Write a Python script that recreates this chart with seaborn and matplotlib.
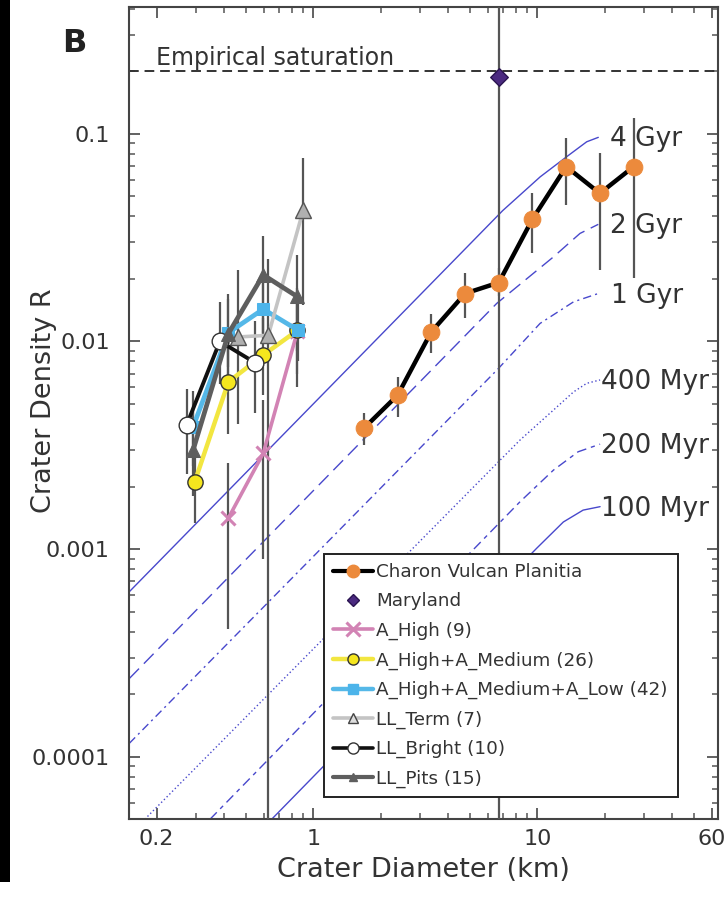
import numpy as np
import pandas as pd
import matplotlib
matplotlib.use("Agg")
import matplotlib.pyplot as plt
from matplotlib.lines import Line2D
from matplotlib.patches import Rectangle
from matplotlib.ticker import FixedLocator, FixedFormatter, LogLocator, NullFormatter
import seaborn as sns

# ---------------- data ----------------
# Charon Vulcan Planitia
charon_d = [1.68, 2.38, 3.36, 4.76, 6.73, 9.51, 13.45, 19.0, 26.9]
charon_r = [0.00381, 0.00551, 0.0111, 0.0170, 0.0192, 0.0388, 0.0694, 0.0516, 0.0694]
charon_lo = [0.00317, 0.00433, 0.00875, 0.0129, 0.0165, 0.0265, 0.0453, 0.0220, 0.0201]
charon_hi = [0.00450, 0.00675, 0.0136, 0.0213, 0.0225, 0.0516, 0.0949, 0.0804, 0.1185]

# Maryland
maryland_d = [6.77]
maryland_r = [0.188]
maryland_lo = [1e-6]
maryland_hi = [10.0]

# A_High (9)
ahigh_d = [0.418, 0.598, 0.85]
ahigh_r = [0.00141, 0.00289, 0.0112]
ahigh_lo = [0.00041, 0.0009, 0.006]
ahigh_hi = [0.0026, 0.0052, 0.018]

# A_High+A_Medium (26)
ahm_d = [0.296, 0.418, 0.598, 0.85]
ahm_r = [0.00211, 0.00638, 0.00859, 0.0113]
ahm_lo = [0.00133, 0.0036, 0.0055, 0.007]
ahm_hi = [0.0034, 0.0105, 0.013, 0.017]

# A_High+A_Medium+A_Low (42)
ahml_d = [0.291, 0.418, 0.598, 0.857]
ahml_r = [0.00388, 0.0110, 0.0143, 0.0113]
ahml_lo = [0.0025, 0.0075, 0.0105, 0.008]
ahml_hi = [0.0058, 0.016, 0.019, 0.016]

# LL_Term (7)
llterm_d = [0.463, 0.630, 0.902]
llterm_r = [0.0105, 0.0107, 0.0429]
llterm_lo = [0.004, 1e-6, 0.015]
llterm_hi = [0.022, 0.025, 0.076]

# LL_Bright (10)
llbright_d = [0.272, 0.383, 0.549]
llbright_r = [0.00395, 0.0100, 0.0079]
llbright_lo = [0.0023, 0.0062, 0.0045]
llbright_hi = [0.0059, 0.0155, 0.0125]

# LL_Pits (15)
llpits_d = [0.291, 0.418, 0.598, 0.843]
llpits_r = [0.0030, 0.0109, 0.0209, 0.0165]
llpits_lo = [0.0018, 0.006, 0.011, 0.009]
llpits_hi = [0.0048, 0.017, 0.032, 0.026]

# model isochrons
iso_4gyr_d = [0.151, 7.0, 10.3, 13.5, 16.6, 18.7]
iso_4gyr_r = [6.23e-4, 0.0426, 0.0620, 0.0774, 0.0914, 0.0960]
iso_2gyr_d = [0.151, 6.59, 11.79, 15.5, 18.7]
iso_2gyr_r = [2.38e-4, 0.01524, 0.0255, 0.0331, 0.0366]
iso_1gyr_d = [0.151, 6.70, 10.28, 14.5, 18.7]
iso_1gyr_r = [1.16e-4, 0.0074, 0.0122, 0.0155, 0.0170]
iso_400myr_d = [0.177, 8.37, 11.8, 14.5, 16.6, 19.05]
iso_400myr_r = [5e-5, 0.00335, 0.00467, 0.00571, 0.00628, 0.00652]
iso_200myr_d = [0.346, 8.37, 11.8, 15.2, 19.05]
iso_200myr_r = [5e-5, 0.00169, 0.0024, 0.00294, 0.0032]
iso_100myr_d = [0.652, 9.94, 13.06, 16.0, 19.05]
iso_100myr_r = [5e-5, 0.00101, 0.00135, 0.00154, 0.0016]
iso_labels = ["4 Gyr", "2 Gyr", "1 Gyr", "400 Myr", "200 Myr", "100 Myr"]

saturation_r = 0.2

x_ticks = [0.2, 1, 10, 60]
x_ticklabels = ["0.2", "1", "10", "60"]
y_ticks = [1e-4, 1e-3, 1e-2, 1e-1]
y_ticklabels = ["0.0001", "0.001", "0.01", "0.1"]

# ---------------- styling ----------------
sns.set_theme(style="ticks")
plt.rcParams['font.family'] = ['DejaVu Sans']
plt.rcParams['text.color'] = '#333333'

fig = plt.figure(figsize=(7.28, 9.0), dpi=100)
ax = fig.add_axes([0.1776, 0.0897, 0.8087, 0.9022])
ax.set_xscale('log')
ax.set_yscale('log')
ax.set_xlim(0.151, 64)
ax.set_ylim(5e-5, 0.406)

ISO_C = '#4848cc'
ERR_C = '#555555'

iso_sets = [
    (iso_4gyr_d, iso_4gyr_r, '-', 12),
    (iso_2gyr_d, iso_2gyr_r, (0, (10, 5)), 12),
    (iso_1gyr_d, iso_1gyr_r, (0, (6, 3, 1.5, 3)), 13),
    (iso_400myr_d, iso_400myr_r, (0, (1, 1.8)), 1),
    (iso_200myr_d, iso_200myr_r, (0, (7, 3.5, 3, 3.5)), 1),
    (iso_100myr_d, iso_100myr_r, '-', 1),
]
for (d, r, ls, dx), lab in zip(iso_sets, iso_labels):
    sns.lineplot(x=d, y=r, ax=ax, color=ISO_C, lw=1.0, sort=False,
                 estimator=None, legend=False, zorder=2)
    ax.lines[-1].set_linestyle(ls)
    ax.annotate(lab, xy=(d[-1], r[-1]), xytext=(dx, -9),
                textcoords='offset pixels', ha='left', va='baseline',
                fontsize=19, color='#333333', zorder=3)

# empirical saturation
ax.axhline(saturation_r, color='#333333', lw=1.4, ls=(0, (5, 3)), zorder=2)
ax.text(0.0454, 0.214, "Empirical saturation", transform=ax.get_yaxis_transform(),
        ha='left', va='baseline', fontsize=17, color='#333333')


def err(d, r, lo, hi, z=3):
    r = np.asarray(r)
    ax.errorbar(d, r, yerr=[r - np.asarray(lo), np.asarray(hi) - r], fmt='none',
                ecolor=ERR_C, elinewidth=1.6, capsize=0, zorder=z)


# Maryland
err(maryland_d, maryland_r, maryland_lo, maryland_hi, z=3)
sns.scatterplot(x=maryland_d, y=maryland_r, ax=ax, marker='D', s=80,
                color='#4b2a80', edgecolor='#2a1450', linewidth=1, zorder=6, legend=False)

# Charon
err(charon_d, charon_r, charon_lo, charon_hi)
sns.lineplot(x=charon_d, y=charon_r, ax=ax, color='black', lw=3.2, sort=False,
             estimator=None, legend=False, marker='o', markersize=12,
             markerfacecolor='#ec8a3c', markeredgecolor='#ec8a3c', zorder=5)

# left cluster
series = [
    (ahigh_d, ahigh_r, ahigh_lo, ahigh_hi, dict(color='#d283b4', lw=2.6, marker='x', markersize=10,
                                              markeredgewidth=2.2, markeredgecolor='#d283b4')),
    (ahm_d, ahm_r, ahm_lo, ahm_hi, dict(color='#f2e640', lw=3.2, marker='o', markersize=11,
                                        markerfacecolor='#f5e61e', markeredgecolor='#333333', markeredgewidth=1.0)),
    (ahml_d, ahml_r, ahml_lo, ahml_hi, dict(color='#55b8e8', lw=3.4, marker='s', markersize=9,
                                            markerfacecolor='#4cb4ea', markeredgecolor='#4cb4ea')),
    (llterm_d, llterm_r, llterm_lo, llterm_hi, dict(color='#c4c4c4', lw=2.6, marker='^', markersize=12,
                                                    markerfacecolor='#b0b0b0', markeredgecolor='#555555', markeredgewidth=1.0)),
    (llbright_d, llbright_r, llbright_lo, llbright_hi, dict(color='#111111', lw=2.8, marker='o', markersize=12,
                                                            markerfacecolor='white', markeredgecolor='#333333', markeredgewidth=1.0)),
    (llpits_d, llpits_r, llpits_lo, llpits_hi, dict(color='#5e5e5e', lw=3.4, marker='^', markersize=10,
                                                    markerfacecolor='#5e5e5e', markeredgecolor='#5e5e5e')),
]
for d, r, lo, hi, kw in series:
    err(d, r, lo, hi, z=3)
for i, (d, r, lo, hi, kw) in enumerate(series):
    sns.lineplot(x=d, y=r, ax=ax, sort=False, estimator=None, legend=False, zorder=5 + i * 0.1, **kw)

# ---------------- axes ----------------
ax.xaxis.set_major_locator(FixedLocator(x_ticks))
ax.xaxis.set_major_formatter(FixedFormatter(x_ticklabels))
ax.xaxis.set_minor_locator(LogLocator(base=10, subs=np.arange(2, 10), numticks=20))
ax.xaxis.set_minor_formatter(NullFormatter())
ax.yaxis.set_major_locator(FixedLocator(y_ticks))
ax.yaxis.set_major_formatter(FixedFormatter(y_ticklabels))
ax.yaxis.set_minor_locator(LogLocator(base=10, subs=np.arange(2, 10), numticks=20))
ax.yaxis.set_minor_formatter(NullFormatter())

ax.tick_params(which='both', direction='in', top=True, right=True, color='#555555',
               labelcolor='#333333', labelsize=16)
ax.tick_params(which='major', length=8, width=1.3)
ax.tick_params(which='minor', length=4.5, width=1.1)
ax.tick_params(axis='x', pad=7)
ax.tick_params(axis='y', pad=14)
for s in ax.spines.values():
    s.set_visible(True)
    s.set_color('#444444')
    s.set_linewidth(1.5)

ax.set_xlabel("Crater Diameter (km)", fontsize=19.5, color='#333333')
ax.set_ylabel("Crater Density R", fontsize=19.5, color='#333333')
ax.xaxis.set_label_coords(0.5, -0.047)
ax.yaxis.set_label_coords(-0.1235, 0.516)

# legend
handles = [
    Line2D([], [], color='black', lw=3, marker='o', markersize=9, markerfacecolor='#ec8a3c', markeredgecolor='#ec8a3c'),
    Line2D([], [], color='none', marker='D', markersize=6, markerfacecolor='#4b2a80', markeredgecolor='#2a1450'),
    Line2D([], [], color='#d283b4', lw=2.6, marker='x', markersize=10, markeredgewidth=2.2),
    Line2D([], [], color='#f2e640', lw=3.2, marker='o', markersize=8, markerfacecolor='#f5e61e', markeredgecolor='#333333'),
    Line2D([], [], color='#55b8e8', lw=3.2, marker='s', markersize=7, markerfacecolor='#4cb4ea', markeredgecolor='#4cb4ea'),
    Line2D([], [], color='#c4c4c4', lw=2.6, marker='^', markersize=7, markerfacecolor='#dddddd', markeredgecolor='#444444'),
    Line2D([], [], color='#111111', lw=2.6, marker='o', markersize=8, markerfacecolor='white', markeredgecolor='#333333'),
    Line2D([], [], color='#5e5e5e', lw=3, marker='^', markersize=6, markerfacecolor='#5e5e5e', markeredgecolor='#5e5e5e'),
]
labels = ["Charon Vulcan Planitia", "Maryland", "A_High (9)", "A_High+A_Medium (26)",
          "A_High+A_Medium+A_Low (42)", "LL_Term (7)", "LL_Bright (10)", "LL_Pits (15)"]
leg = ax.legend(handles, labels, loc='lower left', bbox_to_anchor=(0.3307, 0.0271, 0.602, 0.3054),
                mode='expand', fontsize=13.2, frameon=True, fancybox=False, framealpha=1,
                edgecolor='#222222', handlelength=2.2, handletextpad=0.15, borderpad=0.5,
                labelspacing=0.62, borderaxespad=0)
leg.get_frame().set_linewidth(1.4)
for t in leg.get_texts():
    t.set_color('#333333')
leg.set_zorder(10)

# panel letter and black strip
fig.text(74 / 728, 1 - 43 / 900, "B", fontsize=23, fontweight='bold', ha='center', va='center', color='#222222')
fig.patches.append(Rectangle((0, 1 - 882 / 900), 10 / 728, 882 / 900, transform=fig.transFigure,
                             facecolor='black', edgecolor='none'))

fig.savefig("out.png", dpi=100)
